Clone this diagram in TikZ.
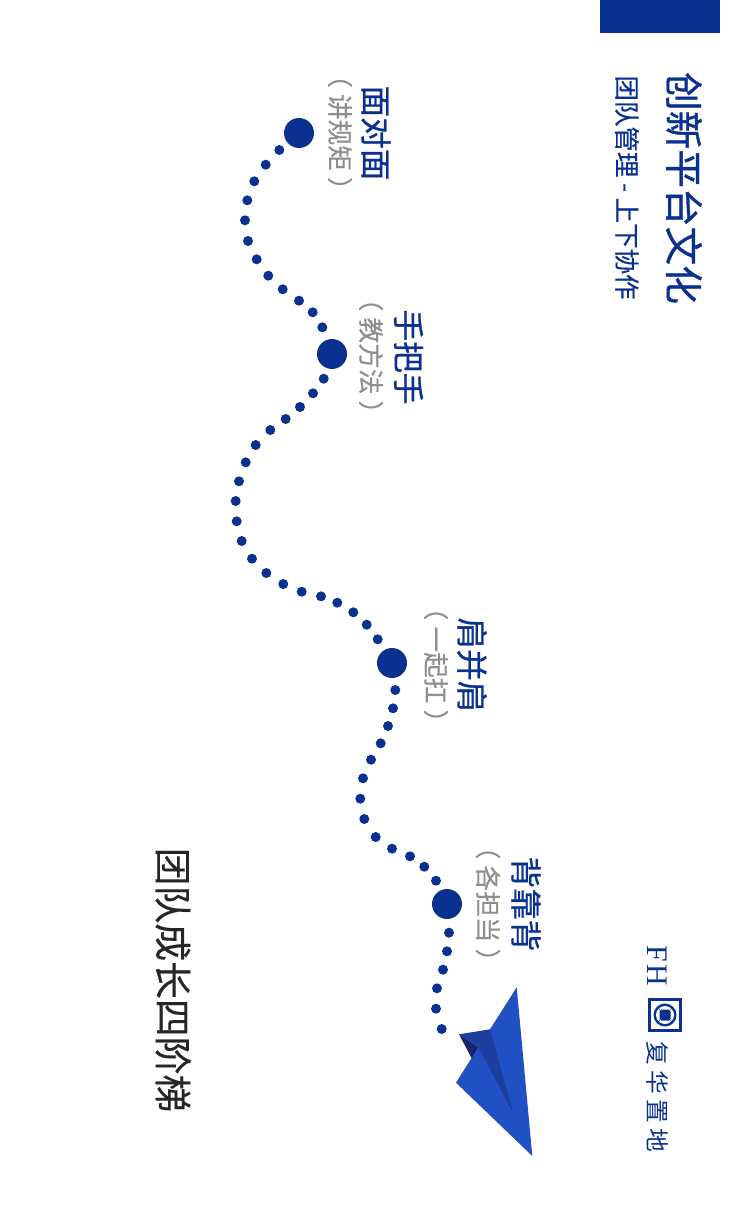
\documentclass[tikz,border=0pt]{standalone}
\usepackage{fontspec}
\setmainfont{Noto Sans CJK SC}
\newfontfamily\heavyfont[FakeBold=0.9]{Noto Sans CJK SC}
\newfontfamily\midfont[FakeBold=0.4]{Noto Sans CJK SC}
\newfontfamily\markfont{Liberation Serif}
\usetikzlibrary{positioning}
\definecolor{fhblue}{HTML}{0A3190}
\definecolor{planeblue}{HTML}{2150C4}
\definecolor{planemid}{HTML}{1C3E9E}
\definecolor{planedark}{HTML}{14246E}
\definecolor{subgray}{HTML}{8E8E8E}
\newcommand{\notetext}[1]{（\kern3.5pt #1\kern3.5pt）}
\begin{document}
\begin{tikzpicture}[
    x=0.02cm,y=-0.02cm,
    turned/.style={rotate=-90,inner sep=0pt,align=center},
    stagename/.style={turned,text=fhblue,font=\heavyfont\fontsize{18pt}{18pt}\selectfont},
    stagenote/.style={turned,text=subgray,font=\midfont\fontsize{14.6pt}{15pt}\selectfont},
    stage/.style={circle,fill=fhblue,inner sep=0pt,minimum size=0.6cm},
    dot/.style={circle,fill=fhblue,inner sep=0pt,minimum size=0.2cm}
    ]
        \useasboundingbox (0,0) rectangle (750,1206);
        \fill [fhblue] (600,0) rectangle (720,33);
        % titles
        \node [turned,text=fhblue,font=\heavyfont\fontsize{22pt}{22pt}\selectfont] (title) at (684,188) {创新平台文化};
        \node [turned,text=fhblue,font=\midfont\fontsize{14.5pt}{15pt}\selectfont] (subtitle) at (627,187.5) {团队管理 - 上下协作};
        \node [turned,text=black!85,font=\midfont\fontsize{21.5pt}{22pt}\selectfont] (heading) at (173,980) {团队成长四阶梯};
        % stages
        \node [stage] (s1) at (299,133) {};
        \node [stage] (s2) at (332,354) {};
        \node [stage] (s3) at (392,663) {};
        \node [stage] (s4) at (447,904) {};
        \node [stagename] (n1) at (376,133) {面对面};
        \node [stagenote] (t1) at (340,132.5) {\notetext{讲规矩}};
        \node [stagename] (n2) at (408.5,357) {手把手};
        \node [stagenote] (t2) at (371,356) {\notetext{教方法}};
        \node [stagename] (n3) at (472,665) {肩并肩};
        \node [stagenote] (t3) at (436,665) {\notetext{一起扛}};
        \node [stagename] (n4) at (526,904) {背靠背};
        \node [stagenote] (t4) at (488,904) {\notetext{各担当}};
        % dotted path
        \foreach \x/\y in {279.3/150,265.7/164.7,254.3/181.3,247.3/200.3,245/220.3,248/241,256.7/259.3,268.3/275.7,282.7/289.3,299/300.7,312.7/312.3,322.3/327.3,
            323.7/378.7,313/393.3,300/407,285.7/419,270.3/430,255.7/445,245.7/462.3,239/481.3,235.7/501,236.7/521.3,241.7/541,252/558.7,266.3/573,283.3/584,301.7/591.7,321/596.3,337.3/602.7,353.3/612.3,366.7/624.7,377.7/639.3,
            395.3/690,393/708.3,388/726,380.7/743.3,371/759.7,363/778.3,360.3/798.7,364.3/819,375.7/837,392/848.7,410/856.3,424.3/866.7,436/880.7,
            449/932.7,447/951.3,443/969.7,437/988.3,436/1008.7,441.7/1029}
            \node [dot] at (\x,\y) {};
        % plane
        \fill [planeblue] (516.7,987.3) -- (490,1029.3) -- (478.3,1047.3) -- (456,1082.7) -- (532.3,1156) -- cycle;
        \fill [planemid] (459,1034.3) -- (490,1029.3) -- (513.3,1113.3) -- (478.3,1047.3) -- cycle;
        \fill [planedark] (459,1034.3) -- (478.3,1047.3) -- (471.7,1058.3) -- cycle;
        % logo
        \node [turned,text=fhblue,font=\markfont\fontsize{17pt}{18pt}\selectfont] (fh) at (657.5,966) {F\kern1.5pt H};
        \node [draw=fhblue,line width=0.07cm,fill=white,minimum size=0.62cm,inner sep=0pt] (mark) at (665,1015) {};
        \fill [fhblue] (mark.center) circle (11.5);
        \fill [white] (mark.center) circle (9);
        \fill [fhblue,rounded corners=1pt] (659.5,1009.5) rectangle (670.5,1020.5);
        \draw [fhblue,line width=0.3pt] (660,1010) -- (657,1007) (670,1010) -- (673,1007) (660,1020) -- (657,1023) (670,1020) -- (673,1023);
        \node [turned,text=fhblue,font=\fontsize{13.5pt}{14pt}\selectfont] (brand) at (658,1097) {复\kern3pt 华\kern3pt 置\kern3pt 地};
\end{tikzpicture}
\end{document}
